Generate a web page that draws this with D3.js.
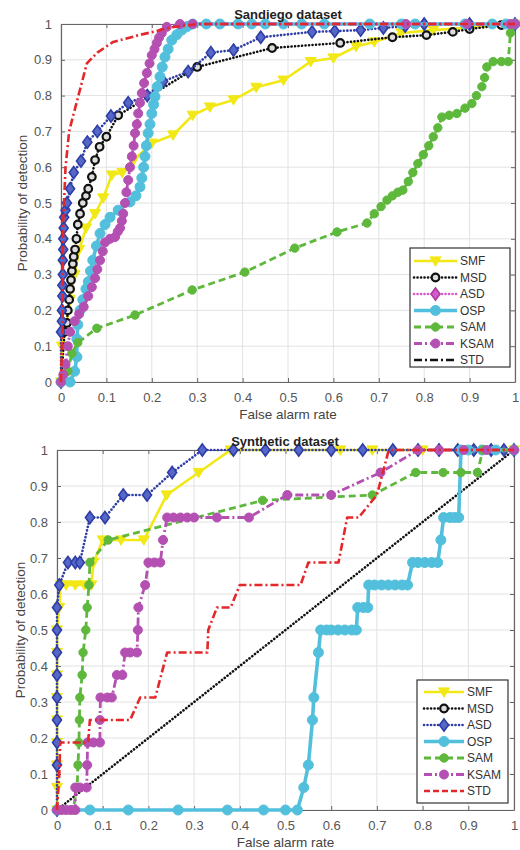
<!DOCTYPE html>
<html><head><meta charset="utf-8">
<script src="https://cdn.jsdelivr.net/npm/d3@7"></script>
<style>body{margin:0;background:#fff} svg{display:block}</style>
</head><body>
<svg id="c" width="520" height="850"></svg>
<script>
// ---------------- data ----------------
const tickValues = [0,0.1,0.2,0.3,0.4,0.5,0.6,0.7,0.8,0.9,1];
const tickLabels = ["0","0.1","0.2","0.3","0.4","0.5","0.6","0.7","0.8","0.9","1"];
const legendNames = ["SMF","MSD","ASD","OSP","SAM","KSAM","STD"];
const panelTitles = ["Sandiego dataset","Synthetic dataset"];
const xLabelText = "False alarm rate";
const yLabelText = "Probability of detection";

// Sandiego dataset
const sdSMF = [[0,0],[0.002,0.1],[0.01,0.15],[0.02,0.23],[0.03,0.3],[0.04,0.37],[0.055,0.43],[0.075,0.47],[0.093,0.514],[0.112,0.578],[0.135,0.585],[0.16,0.62],[0.2,0.667],[0.247,0.69],[0.29,0.745],[0.328,0.768],[0.38,0.788],[0.43,0.823],[0.49,0.843],[0.55,0.895],[0.6,0.905],[0.65,0.937],[0.69,0.95],[0.75,0.975],[0.82,0.983],[0.9,0.99],[1,1]];
const sdMSD = [[0,0],[0.008,0.14],[0.013,0.165],[0.015,0.2],[0.018,0.23],[0.02,0.26],[0.022,0.285],[0.024,0.31],[0.026,0.33],[0.028,0.35],[0.031,0.37],[0.034,0.4],[0.037,0.44],[0.042,0.47],[0.048,0.5],[0.055,0.52],[0.06,0.54],[0.068,0.573],[0.075,0.62],[0.085,0.657],[0.1,0.685],[0.126,0.745],[0.30,0.88],[0.465,0.933],[0.615,0.947],[0.73,0.963],[0.805,0.969],[0.863,0.978],[0.9,0.986],[0.97,0.997],[1,1]];
const sdASD = [[0,0],[0,0.14],[0.002,0.17],[0.002,0.2],[0.003,0.24],[0.003,0.27],[0.004,0.3],[0.004,0.34],[0.005,0.37],[0.005,0.4],[0.006,0.43],[0.007,0.46],[0.01,0.48],[0.013,0.5],[0.02,0.54],[0.028,0.585],[0.044,0.617],[0.058,0.67],[0.08,0.70],[0.11,0.743],[0.148,0.78],[0.19,0.80],[0.225,0.84],[0.28,0.867],[0.33,0.92],[0.38,0.927],[0.44,0.963],[0.553,0.978],[0.603,0.98],[0.66,0.983],[0.71,0.989],[0.758,0.994],[0.8,1],[0.9,1],[1,1]];
const sdOSP = [[0,0],[0.02,0],[0.03,0.03],[0.035,0.07],[0.035,0.12],[0.037,0.16],[0.042,0.2],[0.048,0.23],[0.055,0.26],[0.06,0.28],[0.065,0.31],[0.07,0.34],[0.078,0.38],[0.086,0.415],[0.097,0.44],[0.108,0.46],[0.126,0.48],[0.152,0.503],[0.165,0.52],[0.174,0.545],[0.178,0.57],[0.182,0.6],[0.185,0.63],[0.188,0.66],[0.192,0.695],[0.196,0.72],[0.2,0.75],[0.204,0.775],[0.207,0.797],[0.212,0.825],[0.218,0.853],[0.223,0.88],[0.229,0.908],[0.236,0.93],[0.244,0.955],[0.255,0.97],[0.266,0.983],[0.278,0.993],[0.29,1],[0.32,1],[0.35,1],[0.39,1],[0.42,1],[0.45,1],[0.49,1],[0.53,1],[0.58,1],[0.68,1],[0.75,1],[0.78,1],[0.89,1],[0.95,1],[0.98,1],[1,1]];
const sdSAM = [[0,0],[0.015,0.03],[0.024,0.08],[0.037,0.11],[0.079,0.15],[0.163,0.187],[0.289,0.257],[0.405,0.307],[0.515,0.374],[0.608,0.419],[0.674,0.444],[0.69,0.47],[0.705,0.49],[0.718,0.508],[0.73,0.52],[0.742,0.53],[0.753,0.536],[0.765,0.56],[0.775,0.585],[0.786,0.61],[0.798,0.635],[0.81,0.66],[0.82,0.685],[0.83,0.71],[0.839,0.74],[0.855,0.745],[0.872,0.75],[0.89,0.765],[0.905,0.778],[0.915,0.8],[0.927,0.825],[0.933,0.85],[0.938,0.88],[0.952,0.895],[0.97,0.895],[0.985,0.895],[0.99,0.975],[1,1]];
const sdKSAM = [[0,0],[0.005,0.02],[0.01,0.05],[0.015,0.1],[0.02,0.14],[0.03,0.17],[0.04,0.19],[0.05,0.21],[0.06,0.24],[0.068,0.265],[0.075,0.29],[0.08,0.315],[0.086,0.34],[0.092,0.365],[0.097,0.39],[0.108,0.4],[0.119,0.405],[0.125,0.42],[0.13,0.43],[0.134,0.45],[0.137,0.47],[0.141,0.5],[0.144,0.53],[0.148,0.564],[0.152,0.6],[0.156,0.63],[0.16,0.66],[0.163,0.695],[0.167,0.72],[0.17,0.75],[0.174,0.78],[0.178,0.807],[0.183,0.835],[0.189,0.863],[0.195,0.89],[0.2,0.913],[0.206,0.93],[0.211,0.947],[0.216,0.962],[0.222,0.975],[0.233,0.992],[0.262,1],[0.29,1],[0.76,1],[0.894,1],[0.99,1],[1,1]];
const sdSTD = [[0,0],[0.003,0.15],[0.005,0.45],[0.01,0.6],[0.018,0.7],[0.024,0.73],[0.057,0.89],[0.08,0.92],[0.115,0.95],[0.175,0.97],[0.21,0.98],[0.24,0.99],[0.3,1],[1,1]];

// Synthetic dataset
const sySMF = [[0,0],[0,0.0625],[0,0.125],[0,0.1875],[0,0.25],[0,0.3125],[0,0.375],[0,0.4375],[0,0.5],[0.005,0.5625],[0.008,0.625],[0.02,0.625],[0.04,0.625],[0.06,0.625],[0.075,0.625],[0.08,0.6875],[0.1,0.75],[0.14,0.75],[0.19,0.75],[0.24,0.875],[0.31,0.9375],[0.38,1],[0.62,1],[0.69,1],[0.8,1],[0.9,1],[1,1]];
const syMSD = [[0,0],[1,1]];
const syASD = [[0,0],[0,0.125],[0,0.1875],[0,0.25],[0,0.3125],[0,0.375],[0,0.4375],[0,0.5],[0,0.5625],[0.005,0.625],[0.024,0.6875],[0.04,0.6875],[0.05,0.6875],[0.072,0.8125],[0.105,0.8125],[0.145,0.875],[0.197,0.875],[0.252,0.9375],[0.318,1],[0.386,1],[0.456,1],[0.529,1],[0.6,1],[0.669,1],[0.735,1],[0.79,1],[0.836,1],[0.877,1],[0.912,1],[0.95,1],[0.978,1],[1,1]];
const syOSP = [[0,0],[0.072,0],[0.156,0],[0.265,0],[0.373,0],[0.452,0],[0.5,0],[0.526,0],[0.54,0.0625],[0.55,0.125],[0.559,0.25],[0.562,0.3125],[0.572,0.4375],[0.577,0.5],[0.59,0.5],[0.6,0.5],[0.615,0.5],[0.63,0.5],[0.645,0.5],[0.655,0.5],[0.658,0.5625],[0.67,0.5625],[0.68,0.5625],[0.682,0.625],[0.695,0.625],[0.71,0.625],[0.725,0.625],[0.74,0.625],[0.755,0.625],[0.767,0.625],[0.778,0.6875],[0.79,0.6875],[0.805,0.6875],[0.82,0.6875],[0.833,0.6875],[0.84,0.75],[0.846,0.8125],[0.86,0.8125],[0.87,0.8125],[0.879,0.8125],[0.884,1],[0.9,1],[0.93,1],[0.96,1],[1,1]];
const sySAM = [[0,0],[0.035,0],[0.044,0.0625],[0.046,0.125],[0.048,0.1875],[0.049,0.25],[0.05,0.3125],[0.055,0.375],[0.057,0.4375],[0.063,0.5],[0.066,0.5625],[0.07,0.625],[0.072,0.6875],[0.112,0.75],[0.45,0.86],[0.69,0.875],[0.785,0.9375],[0.845,0.9375],[0.884,0.9375],[0.92,0.9375],[0.932,1],[1,1]];
const syKSAM = [[0,0],[0.01,0],[0.02,0],[0.03,0],[0.04,0],[0.04,0.0625],[0.05,0.0625],[0.065,0.0625],[0.066,0.125],[0.067,0.1875],[0.08,0.1875],[0.094,0.1875],[0.094,0.25],[0.095,0.3125],[0.11,0.3125],[0.12,0.3125],[0.131,0.375],[0.143,0.375],[0.149,0.4375],[0.16,0.4375],[0.175,0.4375],[0.177,0.5],[0.178,0.5625],[0.193,0.625],[0.2,0.6875],[0.213,0.6875],[0.226,0.6875],[0.232,0.75],[0.241,0.8125],[0.255,0.8125],[0.27,0.8125],[0.285,0.8125],[0.3,0.8125],[0.35,0.8125],[0.42,0.8125],[0.504,0.875],[0.6,0.875],[0.708,0.9375],[0.79,1],[0.836,1],[0.89,1],[0.94,1],[1,1]];
const sySTD = [[0,0],[0.005,0.1],[0.007,0.1875],[0.068,0.1875],[0.072,0.25],[0.16,0.25],[0.182,0.3125],[0.215,0.3125],[0.241,0.4375],[0.329,0.4375],[0.331,0.5],[0.35,0.5625],[0.38,0.5625],[0.4,0.625],[0.533,0.625],[0.55,0.6875],[0.616,0.6875],[0.635,0.8125],[0.66,0.8125],[0.7,0.875],[0.726,1],[1,1]];

// ---------------- styles ----------------
const C = {yellow:"#f1e816", black:"#111", blue:"#2e3ea6", cyan:"#52c0dc", green:"#5db83c", magenta:"#b550b3", red:"#e3272a", pink:"#d45bc8"};
const DOT = "0.1,3.4", DASH = "7,4", DASHDOT = "8,3,2,3";
const S = {
  SMF:  {stroke:C.yellow, w:2.6, dash:null, m:"v", ms:5.5, mfill:C.yellow, mstroke:C.yellow, msw:1},
  MSD:  {stroke:C.black, w:2.6, dash:DOT, cap:"round", m:"o", ms:3.8, mfill:"#ddd", mstroke:C.black, msw:2.2},
  ASD:  {stroke:C.blue, w:2.6, dash:DOT, cap:"round", m:"d", ms:5.3, mfill:"#5767c8", mstroke:C.blue, msw:1.6},
  OSP:  {stroke:C.cyan, w:3.6, dash:null, m:"o", ms:5, mfill:C.cyan, mstroke:C.cyan, msw:1},
  SAM:  {stroke:C.green, w:2.8, dash:DASH, m:"o", ms:4.2, mfill:C.green, mstroke:C.green, msw:1},
  KSAM: {stroke:C.magenta, w:2.8, dash:DASHDOT, m:"o", ms:4.5, mfill:C.magenta, mstroke:C.magenta, msw:1},
  STD:  {stroke:C.red, w:2.6, dash:DASHDOT, m:null}
};
const legendTop = Object.assign({}, S, {
  ASD: Object.assign({}, S.ASD, {stroke:C.pink, mfill:C.pink, mstroke:"#b03aa5"}),
  STD: Object.assign({}, S.STD, {stroke:C.black})
});
const legendBottom = Object.assign({}, S, {STD: Object.assign({}, S.STD, {dash:"6,3"})});

const panels = [
  {title:panelTitles[0], L:61, R:515, T:24, B:382, titleX:288, titleY:19, xlabY:419, ylabX:22,
   data:[sdSMF,sdMSD,sdASD,sdOSP,sdSAM,sdKSAM,sdSTD], leg:{x:410,y:248,w:100,h:119,first:261,step:16.5,l0:414,l1:457,tx:460}, legStyle:legendTop},
  {title:panelTitles[1], L:57, R:514, T:450, B:810, titleX:285, titleY:446, xlabY:847, ylabX:20,
   data:[sySMF,syMSD,syASD,syOSP,sySAM,syKSAM,sySTD], leg:{x:417,y:680,w:91,h:123,first:692,step:16.5,l0:424,l1:464,tx:467}, legStyle:legendBottom}
];

const svg = d3.select("#c");
const FONT = "'Liberation Sans', Arial, sans-serif";

function marker(g, st, cx, cy) {
  if (!st.m) return;
  const s = st.ms;
  let el;
  if (st.m === "o") el = g.append("circle").attr("cx", cx).attr("cy", cy).attr("r", s);
  else if (st.m === "v") el = g.append("path").attr("d", `M${cx-s},${cy-s*0.75}L${cx+s},${cy-s*0.75}L${cx},${cy+s*0.95}Z`);
  else if (st.m === "d") el = g.append("path").attr("d", `M${cx},${cy-s*1.15}L${cx+s*0.85},${cy}L${cx},${cy+s*1.15}L${cx-s*0.85},${cy}Z`);
  el.attr("fill", st.mfill).attr("stroke", st.mstroke).attr("stroke-width", st.msw);
}

panels.forEach(p => {
  const x = d3.scaleLinear().domain([0,1]).range([p.L, p.R]);
  const y = d3.scaleLinear().domain([0,1]).range([p.B, p.T]);
  const g = svg.append("g");

  // grid
  const grid = g.append("g");
  grid.selectAll("line.gx").data(tickValues).enter().append("line")
    .attr("x1", d => x(d)).attr("x2", d => x(d)).attr("y1", p.T).attr("y2", p.B)
    .attr("stroke", "#e2e2e2").attr("stroke-width", 1);
  grid.selectAll("line.gy").data(tickValues).enter().append("line")
    .attr("y1", d => y(d)).attr("y2", d => y(d)).attr("x1", p.L).attr("x2", p.R)
    .attr("stroke", "#e2e2e2").attr("stroke-width", 1);

  // axes (MATLAB box with inward ticks)
  const fmt = (d) => tickLabels[tickValues.indexOf(d)];
  const axB = g.append("g").attr("transform", `translate(0,${p.B})`)
    .call(d3.axisBottom(x).tickValues(tickValues).tickFormat(fmt).tickSizeInner(-4).tickSizeOuter(0).tickPadding(11));
  const axL = g.append("g").attr("transform", `translate(${p.L},0)`)
    .call(d3.axisLeft(y).tickValues(tickValues).tickFormat(fmt).tickSizeInner(-4).tickSizeOuter(0).tickPadding(9));
  const axT = g.append("g").attr("transform", `translate(0,${p.T})`)
    .call(d3.axisTop(x).tickValues(tickValues).tickFormat("").tickSizeInner(-4).tickSizeOuter(0));
  const axR = g.append("g").attr("transform", `translate(${p.R},0)`)
    .call(d3.axisRight(y).tickValues(tickValues).tickFormat("").tickSizeInner(-4).tickSizeOuter(0));
  [axB, axL, axT, axR].forEach(a => {
    a.selectAll("path.domain").attr("stroke", "#666").attr("stroke-width", 1.2);
    a.selectAll(".tick line").attr("stroke", "#666");
    a.selectAll("text").attr("fill", "#555").attr("font-size", 13).attr("font-family", FONT);
  });

  // series
  const line = d3.line().x(d => x(d[0])).y(d => y(d[1]));
  p.data.forEach((arr, i) => {
    const st = S[legendNames[i]];
    const sg = g.append("g");
    sg.append("path").datum(arr).attr("d", line).attr("fill", "none")
      .attr("stroke", st.stroke).attr("stroke-width", st.w)
      .attr("stroke-dasharray", st.dash).attr("stroke-linecap", st.cap || "butt")
      .attr("stroke-linejoin", "round");
    if (st.m) arr.forEach(d => marker(sg, st, x(d[0]), y(d[1])));
  });

  // title and labels
  g.append("text").attr("x", p.titleX).attr("y", p.titleY).attr("text-anchor", "middle")
    .attr("font-family", FONT).attr("font-weight", "bold").attr("font-size", 13).attr("fill", "#222").text(p.title);
  g.append("text").attr("x", (p.L + p.R) / 2).attr("y", p.xlabY).attr("text-anchor", "middle")
    .attr("font-family", FONT).attr("font-size", 13.5).attr("fill", "#444").text(xLabelText);
  g.append("text").attr("transform", `translate(${p.ylabX},${(p.T + p.B) / 2}) rotate(-90)`)
    .attr("text-anchor", "middle").attr("dy", "0.35em")
    .attr("font-family", FONT).attr("font-size", 13.5).attr("fill", "#444").text(yLabelText);

  // legend
  const lg = g.append("g");
  lg.append("rect").attr("x", p.leg.x).attr("y", p.leg.y).attr("width", p.leg.w).attr("height", p.leg.h)
    .attr("fill", "#fff").attr("stroke", "#333").attr("stroke-width", 1.2);
  legendNames.forEach((n, i) => {
    const st = p.legStyle[n];
    const cy = p.leg.first + i * p.leg.step;
    lg.append("line").attr("x1", p.leg.l0).attr("x2", p.leg.l1).attr("y1", cy).attr("y2", cy)
      .attr("stroke", st.stroke).attr("stroke-width", st.w)
      .attr("stroke-dasharray", st.dash).attr("stroke-linecap", st.cap || "butt");
    marker(lg, st, (p.leg.l0 + p.leg.l1) / 2, cy);
    lg.append("text").attr("x", p.leg.tx).attr("y", cy).attr("dy", "0.36em")
      .attr("font-family", FONT).attr("font-size", 12).attr("fill", "#333").text(n);
  });
});
</script>
</body></html>
